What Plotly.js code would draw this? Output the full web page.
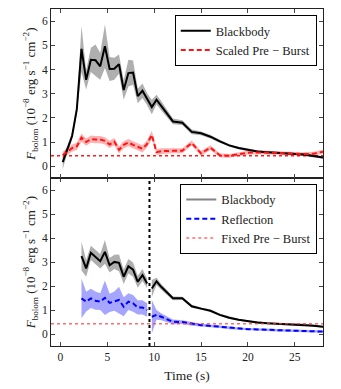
<!DOCTYPE html>
<html>
<head>
<meta charset="utf-8">
<script src="https://cdn.plot.ly/plotly-3.0.1.min.js"></script>
<style>
  html, body { margin: 0; padding: 0; background: #fff; }
  #chart { width: 341px; height: 389px; }
</style>
</head>
<body>
<div id="chart"></div>
<script>
// time bins (s)
var time = [0.25, 0.75, 1.25, 1.75, 2.25, 2.75, 3.25, 3.75, 4.25, 4.75, 5.25, 5.75,
	6.25, 6.75, 7.25, 7.75, 8.25, 8.75, 9.25, 9.75, 10.25, 10.75,
	12, 13, 14, 15, 16, 17, 18, 19, 20, 21, 22, 23, 24, 25, 26, 27, 28];

// top panel: blackbody + scaled pre-burst
var bbScaled = [0.17, 0.7, 1.25, 2.35, 4.85, 3.57, 4.4, 4.38, 4.13, 4.96, 4.02, 4.03,
	4.22, 3.15, 3.85, 3.87, 2.9, 3.12, 2.77, 2.45, 2.75, 2.5,
	1.85, 1.8, 1.42, 1.36, 1.22, 1.03, 0.86, 0.75, 0.67, 0.61, 0.58, 0.56, 0.53, 0.51, 0.48, 0.42, 0.36];
var bbScaledErr = [0.3, 0.15, 0.15, 0.2, 0.95, 0.4, 0.5, 0.65, 0.55, 0.9, 0.5, 0.45,
	0.4, 0.4, 0.55, 0.5, 0.3, 0.3, 0.25, 0.3, 0.2, 0.2,
	0.12, 0.1, 0.1, 0.08, 0.07, 0.06, 0.05, 0.05, 0.05, 0.05, 0.05, 0.05, 0.05, 0.05, 0.05, 0.05, 0.05];
var preScaled = [0.45, 0.62, 0.75, 0.82, 1.18, 1.0, 1.12, 1.1, 1.1, 1.05, 0.9, 1.02,
	0.68, 0.88, 0.98, 0.88, 0.8, 0.72, 0.92, 1.3, 0.58, 0.62,
	0.64, 0.64, 0.96, 0.53, 0.77, 0.45, 0.43, 0.5, 0.56, 0.57, 0.57, 0.55, 0.53, 0.5, 0.5, 0.52, 0.6];
var preScaledErr = [0.15, 0.15, 0.15, 0.15, 0.17, 0.15, 0.15, 0.15, 0.15, 0.15, 0.15, 0.15,
	0.15, 0.15, 0.15, 0.15, 0.15, 0.15, 0.15, 0.17, 0.12, 0.12,
	0.1, 0.1, 0.1, 0.1, 0.1, 0.08, 0.08, 0.08, 0.08, 0.08, 0.08, 0.08, 0.08, 0.08, 0.08, 0.08, 0.08];

// bottom panel: blackbody + reflection, before and after the split
var timeA = [2.25, 2.75, 3.25, 3.75, 4.25, 4.75, 5.25, 5.75, 6.25, 6.75, 7.25, 7.75, 8.25, 8.75, 9.25];
var timeB = [9.75, 10.25, 10.75, 12, 13, 14, 15, 16, 17, 18, 19, 20, 21, 22, 23, 24, 25, 26, 27, 28];
var bbReflA = [3.25, 2.74, 3.39, 3.2, 3.04, 3.43, 2.87, 3.01, 2.97, 2.39, 2.83, 2.69, 2.18, 2.46, 2.11];
var bbReflAErr = [0.6, 0.35, 0.3, 0.3, 0.3, 0.5, 0.3, 0.3, 0.35, 0.3, 0.3, 0.3, 0.25, 0.25, 0.2];
var bbReflB = [1.9, 2.2, 1.97, 1.49, 1.49, 1.16, 1.06, 0.97, 0.8, 0.68, 0.6, 0.53, 0.48, 0.45, 0.43, 0.42, 0.41, 0.4, 0.35, 0.3];
var bbReflBErr = [0.35, 0.15, 0.12, 0.08, 0.07, 0.06, 0.05, 0.05, 0.05, 0.05, 0.04, 0.04, 0.04, 0.04, 0.04, 0.04, 0.04, 0.04, 0.04, 0.04];
var reflA = [1.49, 1.35, 1.49, 1.39, 1.35, 1.51, 1.3, 1.37, 1.42, 1.14, 1.35, 1.28, 1.11, 1.11, 1.0];
var reflAErr = [0.83, 0.41, 0.4, 0.38, 0.35, 0.72, 0.38, 0.4, 0.55, 0.4, 0.35, 0.35, 0.3, 0.3, 0.28];
var reflB = [0.72, 0.8, 0.72, 0.51, 0.5, 0.42, 0.37, 0.34, 0.3, 0.25, 0.22, 0.2, 0.19, 0.18, 0.16, 0.15, 0.14, 0.13, 0.12, 0.1];
var reflBErr = [0.7, 0.2, 0.15, 0.1, 0.08, 0.07, 0.06, 0.06, 0.05, 0.05, 0.05, 0.05, 0.05, 0.05, 0.05, 0.05, 0.05, 0.05, 0.05, 0.05];

var preBurstLevel = 0.43;
var splitTime = 9.5;
var xRange = [-1, 28];
var yRange = [-0.5, 6.5];

var serif = 'Liberation Serif';

function band(t, v, e, color, xa, ya) {
	var up = [], lo = [];
	for (var i = 0; i < t.length; i++) {
		up.push(v[i] + e[i]);
		lo.push(v[i] - e[i]);
	}
	return {
		x : t.concat(t.slice().reverse()),
		y : up.concat(lo.reverse()),
		xaxis : xa,
		yaxis : ya,
		type : 'scatter',
		mode : 'lines',
		fill : 'toself',
		fillcolor : color,
		line : { width : 0 },
		hoverinfo : 'skip',
		showlegend : false
	};
}

function curve(t, v, name, color, dash, xa, ya, legend, show) {
	return {
		x : t,
		y : v,
		xaxis : xa,
		yaxis : ya,
		type : 'scatter',
		mode : 'lines',
		name : name,
		line : { color : color, width : 2, dash : dash },
		legend : legend,
		showlegend : show
	};
}

var grayFill = 'rgba(110, 110, 110, 0.55)';
var redFill = 'rgba(255, 0, 0, 0.3)';
var blueFill = 'rgba(0, 0, 255, 0.35)';
var shortDash = '5px,3px';

var data = [
	// top panel
	band(time, bbScaled, bbScaledErr, grayFill, 'x2', 'y2'),
	band(time, preScaled, preScaledErr, redFill, 'x2', 'y2'),
	{
		x : xRange, y : [preBurstLevel, preBurstLevel], xaxis : 'x2', yaxis : 'y2',
		type : 'scatter', mode : 'lines', showlegend : false,
		line : { color : 'rgba(255, 0, 0, 0.9)', width : 1.5, dash : 'dot' }
	},
	curve(time, bbScaled, 'Blackbody', 'black', 'solid', 'x2', 'y2', 'legend', true),
	curve(time, preScaled, 'Scaled Pre \u2212 Burst', 'rgb(255, 20, 20)', shortDash, 'x2', 'y2', 'legend', true),

	// bottom panel
	band(timeA, bbReflA, bbReflAErr, grayFill, 'x', 'y'),
	band(timeB, bbReflB, bbReflBErr, grayFill, 'x', 'y'),
	band(timeA, reflA, reflAErr, blueFill, 'x', 'y'),
	band(timeB, reflB, reflBErr, blueFill, 'x', 'y'),
	curve(timeA, bbReflA, 'Blackbody', 'black', 'solid', 'x', 'y', 'legend2', false),
	curve(timeB, bbReflB, 'Blackbody', 'black', 'solid', 'x', 'y', 'legend2', false),
	curve(timeA, reflA, 'Reflection', 'blue', shortDash, 'x', 'y', 'legend2', false),
	curve(timeB, reflB, 'Reflection', 'blue', shortDash, 'x', 'y', 'legend2', false),
	{
		x : xRange, y : [preBurstLevel, preBurstLevel], xaxis : 'x', yaxis : 'y',
		type : 'scatter', mode : 'lines', showlegend : false,
		line : { color : 'rgba(255, 60, 60, 0.75)', width : 1.5, dash : 'dot' }
	},
	// legend entries for the bottom panel
	curve([null], [null], 'Blackbody', 'rgb(130, 130, 130)', 'solid', 'x', 'y', 'legend2', true),
	curve([null], [null], 'Reflection', 'blue', shortDash, 'x', 'y', 'legend2', true),
	{
		x : [null], y : [null], xaxis : 'x', yaxis : 'y', type : 'scatter', mode : 'lines',
		name : 'Fixed Pre \u2212 Burst', legend : 'legend2', showlegend : true,
		line : { color : 'rgba(255, 60, 60, 0.75)', width : 1.5, dash : 'dot' }
	}
];

var split = 0.4976;
var yTitle = '<i>F</i><sub>bolom</sub> (10<sup>\u22128</sup> erg s<sup>\u22121</sup> cm<sup>\u22122</sup>)';

var xCommon = {
	range : xRange,
	tickvals : [0, 5, 10, 15, 20, 25],
	ticks : 'inside',
	ticklen : 4,
	tickcolor : '#444',
	mirror : 'ticks',
	showline : true,
	linecolor : '#222',
	linewidth : 1,
	showgrid : false,
	zeroline : false,
	tickfont : { family : serif, size : 11.5, color : '#222' }
};

function yAxis(domain, anchor) {
	return {
		domain : domain,
		anchor : anchor,
		range : yRange,
		tickvals : [0, 1, 2, 3, 4, 5, 6],
		ticks : 'inside',
		ticklen : 4,
		tickcolor : '#444',
		mirror : 'ticks',
		showline : true,
		linecolor : '#222',
		linewidth : 1,
		showgrid : false,
		zeroline : false,
		tickfont : { family : serif, size : 11.5, color : '#222' },
		title : {
			text : yTitle,
			font : { family : serif, size : 13, color : '#222' },
			standoff : 3
		}
	};
}

var legendCommon = {
	xanchor : 'right',
	yanchor : 'top',
	bgcolor : 'white',
	bordercolor : 'black',
	borderwidth : 1,
	font : { family : serif, size : 12.5, color : '#222' }
};

var layout = {
	width : 341,
	height : 389,
	margin : { l : 51, r : 18, t : 9, b : 43 },
	paper_bgcolor : 'white',
	plot_bgcolor : 'white',
	xaxis : Object.assign({}, xCommon, {
		anchor : 'y',
		title : { text : 'Time (s)', font : { family : serif, size : 13.5, color : '#222' }, standoff : 8 }
	}),
	xaxis2 : Object.assign({}, xCommon, { anchor : 'y2', matches : 'x', showticklabels : false }),
	yaxis : yAxis([0, split], 'x'),
	yaxis2 : yAxis([split, 1], 'x2'),
	legend : Object.assign({}, legendCommon, { x : 0.977, y : 0.982 }),
	legend2 : Object.assign({}, legendCommon, { x : 0.979, y : 0.481 }),
	shapes : [{
		type : 'line',
		xref : 'x', yref : 'y domain',
		x0 : splitTime, x1 : splitTime, y0 : 0, y1 : 1,
		line : { color : 'black', width : 2, dash : 'dot' }
	}],
	showlegend : true
};

Plotly.newPlot('chart', data, layout, { displayModeBar : false });
</script>
</body>
</html>
